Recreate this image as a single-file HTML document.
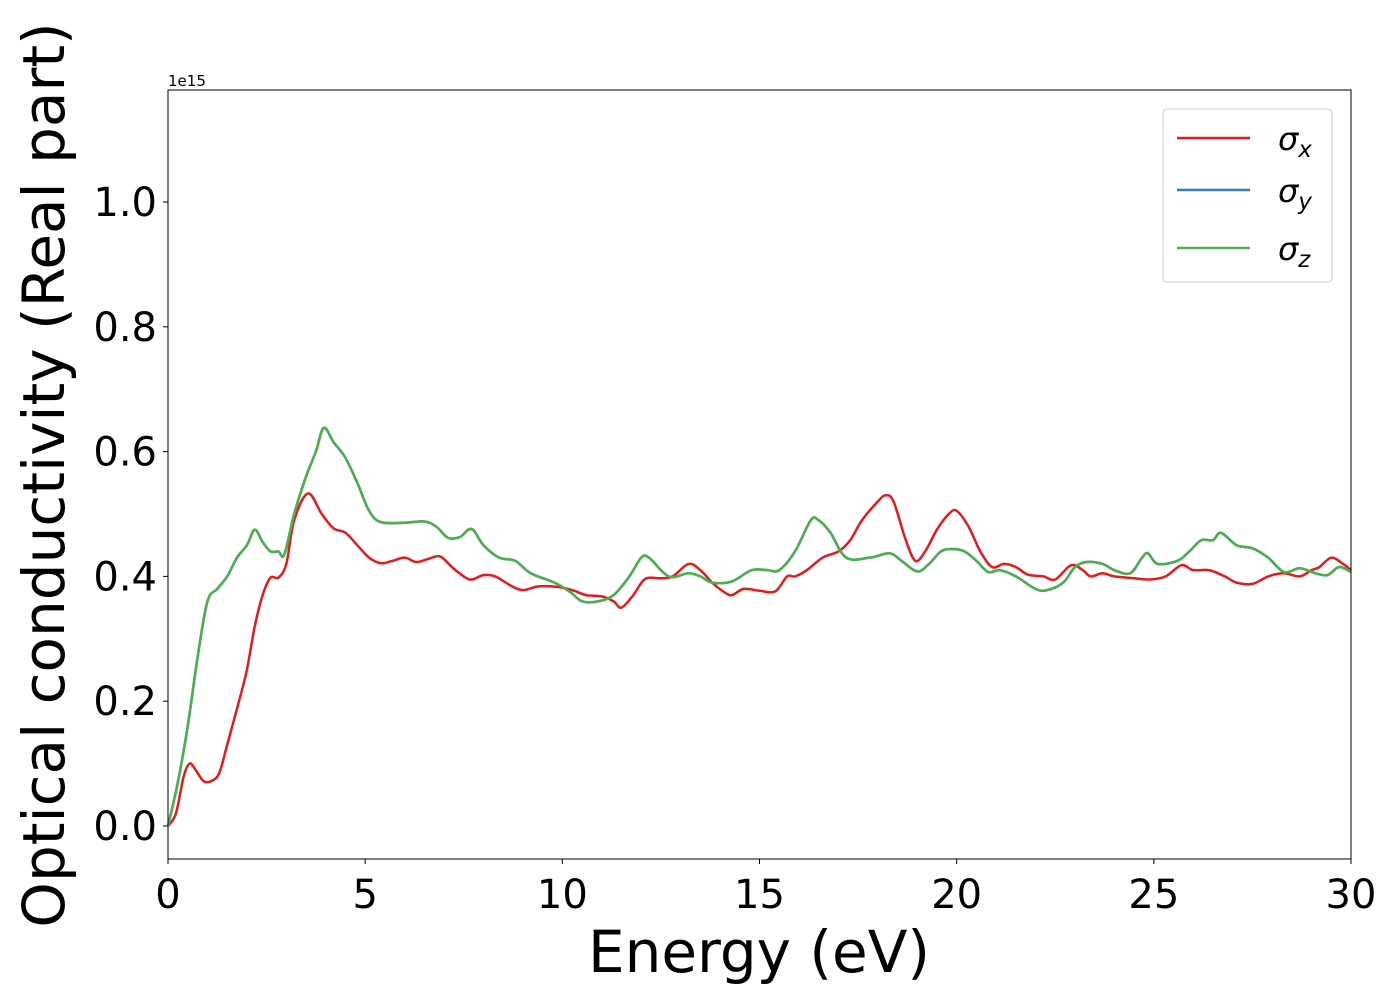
<!DOCTYPE html>
<html><head><meta charset="utf-8"><style>
body{margin:0;background:#fff}
svg text{font-family:"DejaVu Sans","Liberation Sans",sans-serif}
</style></head><body>
<svg id="chart" width="1400" height="1000" xmlns="http://www.w3.org/2000/svg">
<g id="ticks"></g>
<g id="plot"></g>
<rect x="168" y="90" width="1183" height="769" fill="none" stroke="#000" stroke-width="1"/>
<text x="168" y="86" font-size="15">1e15</text>
<text x="759" y="972" font-size="58" text-anchor="middle">Energy (eV)</text>
<text transform="translate(64,475) rotate(-90)" font-size="58" text-anchor="middle">Optical conductivity (Real part)</text>
<g>
<rect x="1163" y="109" width="169" height="173" rx="4" fill="#fff" stroke="#ccc"/>
<line x1="1177" y1="138" x2="1250" y2="138" stroke="#e41a1c" stroke-width="2.5"/>
<text x="1278" y="150" font-size="32" font-style="italic">σ<tspan font-size="23" dy="7">x</tspan></text>
<line x1="1177" y1="190" x2="1250" y2="190" stroke="#377eb8" stroke-width="2.5"/>
<text x="1278" y="202" font-size="32" font-style="italic">σ<tspan font-size="23" dy="7">y</tspan></text>
<line x1="1177" y1="248" x2="1250" y2="248" stroke="#4daf4a" stroke-width="2.5"/>
<text x="1278" y="260" font-size="32" font-style="italic">σ<tspan font-size="23" dy="7">z</tspan></text>
</g>
</svg>
<script>
const xTicks=[0,5,10,15,20,25,30];
const yTicks=[0.0,0.2,0.4,0.6,0.8,1.0];
const yTickLabels=["0.0","0.2","0.4","0.6","0.8","1.0"];
const energyX=[0,0.2,0.4,0.55,0.7,0.9,1.1,1.3,1.5,1.8,2.0,2.2,2.4,2.6,2.8,3.0,3.2,3.55,3.9,4.2,4.5,4.8,5.1,5.4,5.7,6.0,6.3,6.6,6.9,7.2,7.5,7.7,8.0,8.3,8.7,9.0,9.4,9.9,10.3,10.6,11.0,11.3,11.5,11.8,12.1,12.5,12.8,13.2,13.5,13.8,14.1,14.3,14.6,15.0,15.4,15.7,15.9,16.2,16.6,17.0,17.3,17.6,18.0,18.2,18.4,18.7,18.95,19.2,19.5,19.8,20.0,20.3,20.6,20.9,21.2,21.5,21.8,22.2,22.5,22.9,23.2,23.4,23.7,24.0,24.5,24.9,25.3,25.7,26.0,26.4,26.8,27.1,27.5,27.9,28.3,28.7,29.0,29.2,29.5,29.8,30];
const sigmaX=[0,0.02,0.08,0.10,0.09,0.072,0.072,0.085,0.13,0.2,0.25,0.32,0.37,0.398,0.398,0.42,0.49,0.533,0.50,0.477,0.47,0.45,0.43,0.421,0.425,0.43,0.423,0.428,0.432,0.415,0.40,0.395,0.402,0.40,0.385,0.378,0.384,0.383,0.377,0.37,0.368,0.36,0.35,0.37,0.396,0.397,0.40,0.42,0.41,0.39,0.375,0.37,0.38,0.377,0.376,0.40,0.40,0.41,0.43,0.44,0.458,0.49,0.52,0.53,0.52,0.46,0.425,0.44,0.475,0.50,0.505,0.48,0.44,0.415,0.42,0.415,0.403,0.40,0.395,0.418,0.41,0.40,0.405,0.40,0.397,0.395,0.40,0.418,0.41,0.41,0.40,0.39,0.388,0.40,0.405,0.40,0.41,0.415,0.43,0.42,0.41];
const energyZ=[0,0.25,0.5,0.75,1.0,1.25,1.5,1.75,2.0,2.2,2.4,2.6,2.8,2.95,3.2,3.5,3.75,3.95,4.2,4.5,4.8,5.1,5.4,6.0,6.5,6.8,7.1,7.4,7.7,8.0,8.4,8.8,9.2,9.8,10.2,10.5,10.9,11.3,11.7,12.0,12.2,12.7,13.2,13.5,13.8,14.3,14.8,15.2,15.5,15.9,16.3,16.5,16.8,17.2,17.8,18.3,18.6,19.0,19.3,19.6,19.9,20.2,20.5,20.8,21.1,21.5,22.0,22.3,22.7,23.0,23.3,23.7,24.0,24.4,24.7,24.85,25.1,25.6,25.9,26.2,26.5,26.7,27.1,27.5,27.9,28.3,28.7,29.1,29.4,29.7,30];
const sigmaZ=[0,0.07,0.16,0.27,0.36,0.38,0.40,0.43,0.45,0.475,0.455,0.44,0.44,0.435,0.50,0.56,0.60,0.638,0.615,0.59,0.55,0.505,0.487,0.486,0.488,0.48,0.462,0.463,0.476,0.45,0.43,0.425,0.405,0.39,0.375,0.36,0.36,0.37,0.40,0.43,0.43,0.40,0.405,0.40,0.39,0.392,0.41,0.41,0.41,0.44,0.49,0.49,0.47,0.43,0.43,0.437,0.425,0.408,0.42,0.44,0.444,0.44,0.425,0.407,0.41,0.40,0.38,0.378,0.39,0.415,0.423,0.42,0.41,0.405,0.43,0.437,0.42,0.425,0.44,0.458,0.458,0.47,0.45,0.445,0.43,0.407,0.413,0.405,0.402,0.415,0.407];
const sigmaY=sigmaZ.slice();

const X=v=>168+v*(1183/30);
const Y=v=>826-v*624;
const NS="http://www.w3.org/2000/svg";
const ticks=document.getElementById('ticks');
function mk(t,a){const e=document.createElementNS(NS,t);for(const k in a)e.setAttribute(k,a[k]);return e;}
xTicks.forEach(t=>{
  const l=mk('line',{x1:X(t),x2:X(t),y1:859,y2:864,stroke:'#000'});
  
  
  ticks.appendChild(l);
  const tx=mk('text',{x:X(t),y:908,'font-size':40,'text-anchor':'middle'});
  
  
  tx.textContent=t;ticks.appendChild(tx);
});
yTicks.forEach((t,i)=>{
  const l=mk('line',{x1:163,x2:168,y1:Y(t),y2:Y(t),stroke:'#000'});
  
  
  ticks.appendChild(l);
  const tx=mk('text',{x:157,y:Y(t)+14,'font-size':40,'text-anchor':'end'});
  
  
  tx.textContent=yTickLabels[i];ticks.appendChild(tx);
});
function path(xs,ys){
  const p=xs.map((x,i)=>[X(x),Y(ys[i])]);
  let d='M'+p[0][0]+','+p[0][1];
  for(let i=0;i<p.length-1;i++){
    const p0=p[Math.max(0,i-1)],p1=p[i],p2=p[i+1],p3=p[Math.min(p.length-1,i+2)];
    const c1=[p1[0]+(p2[0]-p0[0])/6,p1[1]+(p2[1]-p0[1])/6];
    const c2=[p2[0]-(p3[0]-p1[0])/6,p2[1]-(p3[1]-p1[1])/6];
    d+=`C${c1[0]},${c1[1]} ${c2[0]},${c2[1]} ${p2[0]},${p2[1]}`;
  }
  return d;
}
const plot=document.getElementById('plot');
[['sigma-x-line',energyX,sigmaX,'#e41a1c'],['sigma-y-line',energyZ,sigmaY,'#377eb8'],['sigma-z-line',energyZ,sigmaZ,'#4daf4a']].forEach(s=>{
  const e=mk('path',{d:path(s[1],s[2]),fill:'none',stroke:s[3],'stroke-width':2.5});
  
  
  plot.appendChild(e);
});
</script>
</body></html>
